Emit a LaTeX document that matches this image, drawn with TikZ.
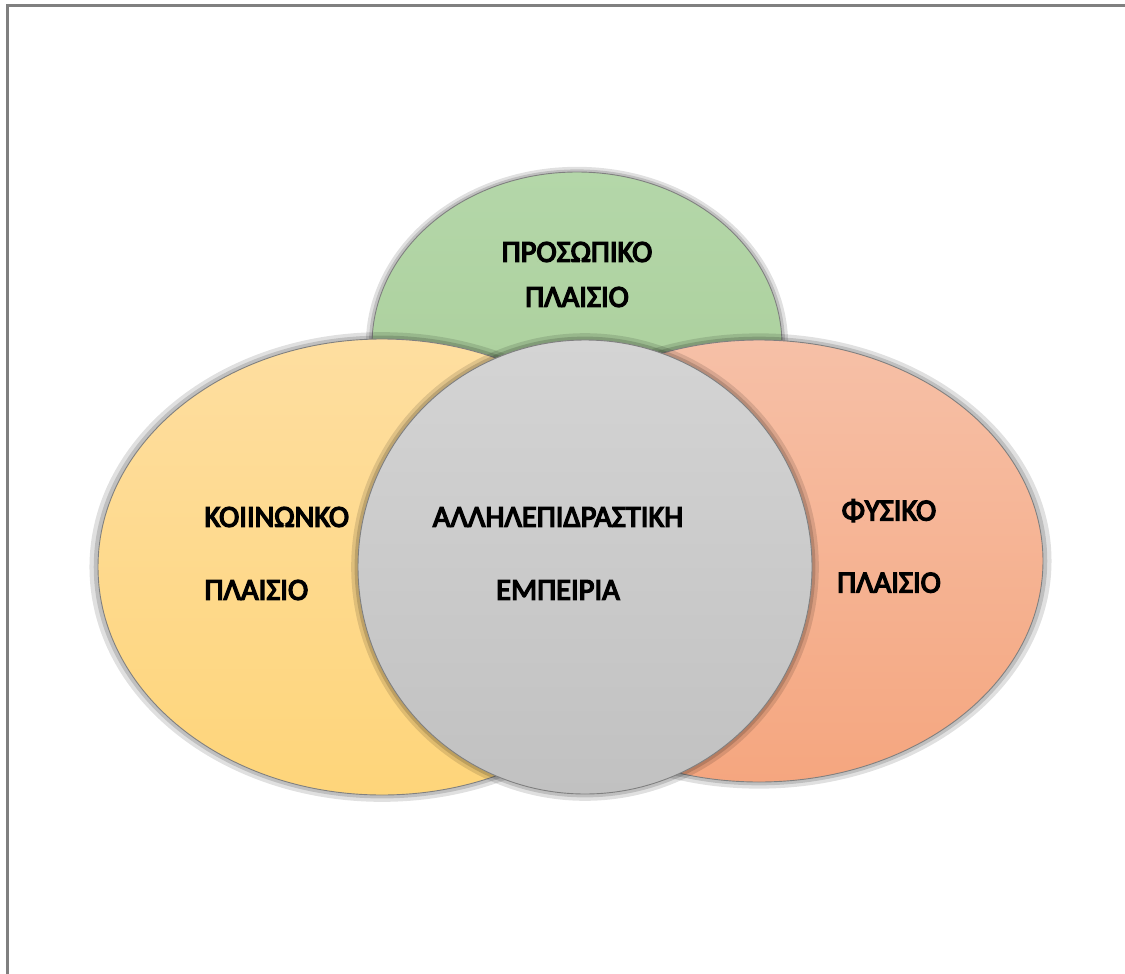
\documentclass[tikz,border=0pt]{standalone}
\usepackage{fontspec}
\setmainfont{Carlito}[BoldFont={Carlito}, BoldFeatures={FakeBold=4.5}]
\usetikzlibrary{shapes.geometric,shadows}

\definecolor{greenTop}{HTML}{B4D7A9}
\definecolor{greenBot}{HTML}{A7CC96}
\definecolor{yellowTop}{HTML}{FEDEA0}
\definecolor{yellowBot}{HTML}{FED57A}
\definecolor{salmonTop}{HTML}{F6C0A7}
\definecolor{salmonBot}{HTML}{F5A67F}
\definecolor{greyTop}{HTML}{D4D4D4}
\definecolor{greyBot}{HTML}{C1C1C1}

\begin{document}
\begin{tikzpicture}[x=1pt,y=-1pt,
  every node/.style={font=\bfseries\fontsize{30.5}{36}\selectfont},
  blob/.style={ellipse, draw=black!50, line width=0.9pt, inner sep=0pt,
    general shadow={fill=black, opacity=0.12, shadow scale=1.03},
    general shadow={fill=black, opacity=0.15, shadow scale=1.015}},
  frame/.style={draw=black!50, line width=3pt}]
\useasboundingbox (0,0) rectangle (1125,974);
\draw[frame] (7,974) -- (7,6) -- (1125,6);

\node[blob, minimum width=410, minimum height=346,
      top color=greenTop, bottom color=greenBot] (Personal) at (577,345) {};
\node[blob, minimum width=568, minimum height=456,
      top color=yellowTop, bottom color=yellowBot] (Social) at (382,567) {};
\node[blob, minimum width=568, minimum height=442,
      top color=salmonTop, bottom color=salmonBot] (Physical) at (759,561) {};
\node[blob, circle, minimum size=454,
      top color=greyTop, bottom color=greyBot] (Interact) at (585,567) {};

\node[align=center] (Personal-txt) at (577,274.5) {ΠΡΟΣΩΠΙΚΟ\\[9pt]ΠΛΑΙΣΙΟ};
\node[align=left, anchor=west] (Social-txt) at (201,553.5) {ΚΟΙΙΝΩΝΚΟ\\[37pt]ΠΛΑΙΣΙΟ};
\node[align=center] (Interact-txt) at (558,553.5) {ΑΛΛΗΛΕΠΙΔΡΑΣΤΙΚΗ\\[37pt]ΕΜΠΕΙΡΙΑ};
\node[align=center] (Physical-txt) at (889,546) {ΦΥΣΙΚΟ\\[36pt]ΠΛΑΙΣΙΟ};
\end{tikzpicture}
\end{document}
